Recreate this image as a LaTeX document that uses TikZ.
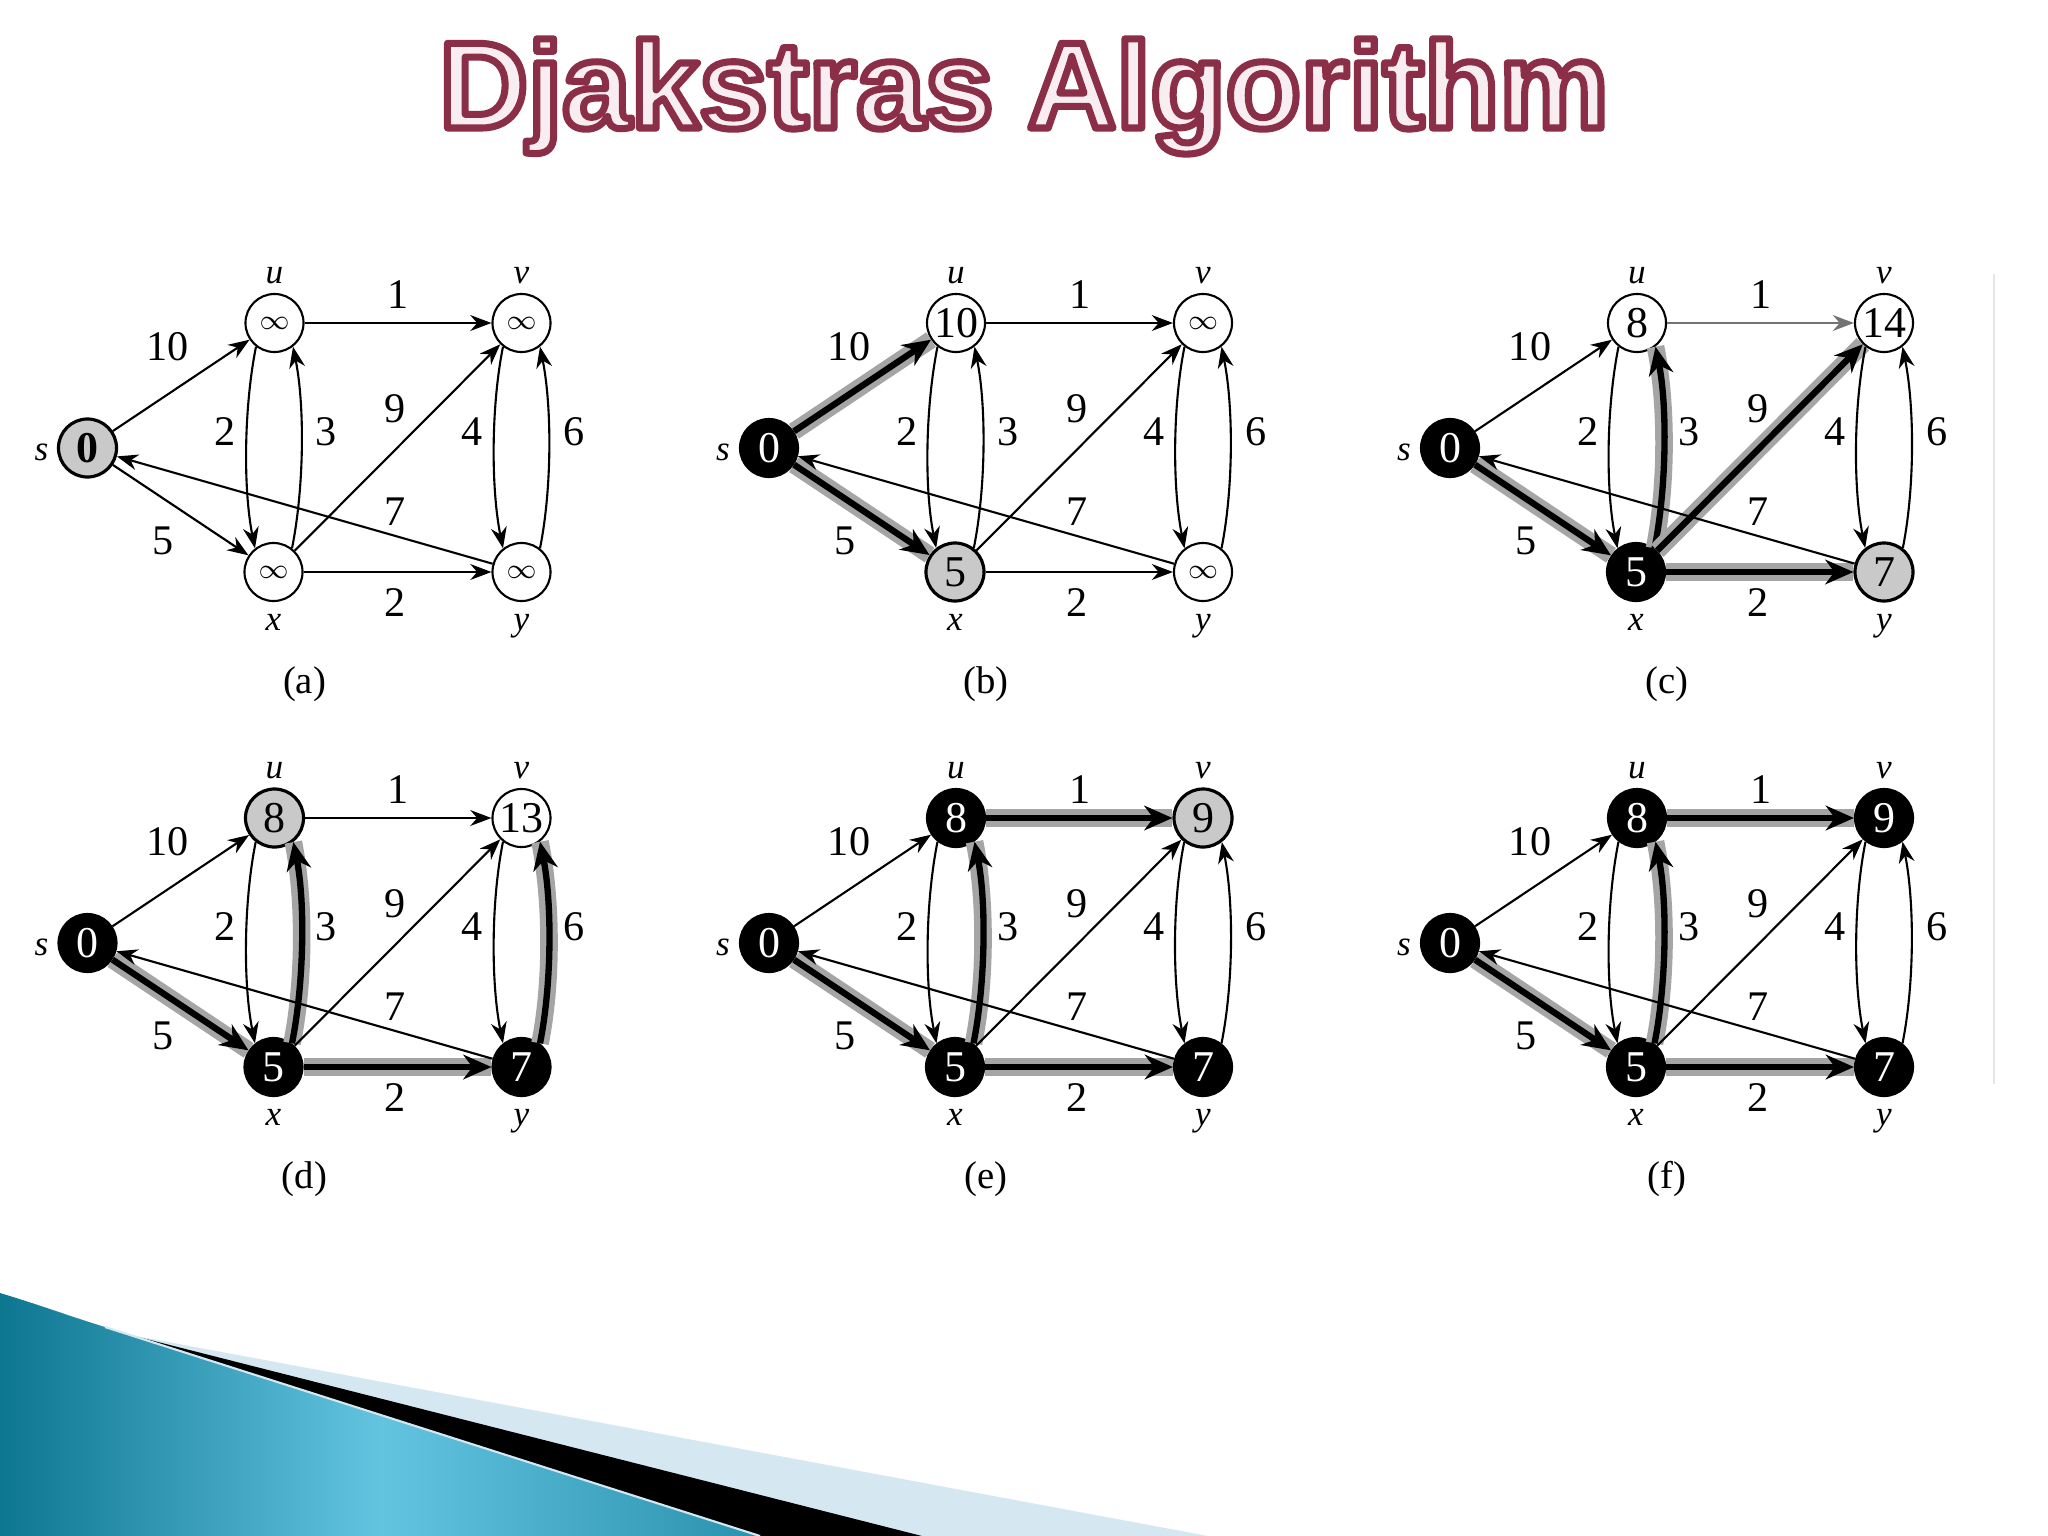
\documentclass[tikz,border=0pt]{standalone}
\usepackage{fontspec}
\setmainfont{Liberation Serif}
\newfontfamily\titlefont{Liberation Sans}
\usetikzlibrary{arrows.meta}
\definecolor{titlefill}{HTML}{F8EEF1}
\definecolor{tealdark}{HTML}{0D7690}
\definecolor{teallight}{HTML}{63C4E0}
\definecolor{tealmid}{HTML}{2A92AE}
\definecolor{paleblue}{HTML}{D5E8F1}
\definecolor{nodegray}{HTML}{C9C9C9}
\definecolor{halo}{HTML}{8E8E8E}
\newcommand\infy{{\fontsize{8}{8}\selectfont$\infty$}}
\tikzset{
  vtx/.style={circle, draw=black, line width=0.6pt, minimum size=0.58cm, inner sep=0pt, font=\fontsize{12.5}{12.5}\selectfont},
  wnode/.style={vtx, fill=white},
  gnode/.style={vtx, fill=nodegray, line width=0.9pt},
  bnode/.style={vtx, fill=black, text=white},
  ne/.style={line width=0.6pt, -{Stealth[length=6pt,width=4.5pt]}},
  neg/.style={ne, draw=black!55},
  hl/.style={line width=1.8pt, -{Stealth[length=8pt,width=7pt]}, preaction={draw=halo!80, line width=5pt, arrows=-}},
  elab/.style={font=\fontsize{12}{12}\selectfont, inner sep=0pt},
  vlab/.style={font=\fontsize{10}{10}\selectfont\itshape, inner sep=0pt},
  caplab/.style={font=\fontsize{11}{11}\selectfont, inner sep=0pt},
}
\newcommand\alledges{\tikzset{esu/.style=ne, esx/.style=ne, euv/.style=ne, eux/.style=ne, exu/.style=ne,
  exv/.style=ne, exy/.style=ne, evy/.style=ne, eyv/.style=ne, eys/.style=ne}}
\newcommand\gpanel[3]{%
\begin{scope}[shift={#2}]
  \node[ns] (#1s) at (0,0) {\Sv};
  \node[nu] (#1u) at (187,-125) {\Uv};
  \node[nv] (#1v) at (434,-125) {\Vv};
  \node[nx] (#1x) at (186,124) {\Xv};
  \node[ny] (#1y) at (434,124) {\Yv};
  \node[vlab] (#1ns) at (-46,4) {s};
  \node[vlab] (#1nu) at (187,-172) {u};
  \node[vlab] (#1nv) at (434,-172) {v};
  \node[vlab] (#1nx) at (186,174) {x};
  \node[vlab] (#1ny) at (434,178) {y};
  \draw[esu] (#1s) -- (#1u);
  \draw[esx] (#1s) -- (#1x);
  \draw[euv] (#1u) -- (#1v);
  \draw[eux] (#1u.232) .. controls +(-12,60) and +(-12,-60) .. (#1x.128);
  \draw[exu] (#1x.52) .. controls +(12,-60) and +(12,60) .. (#1u.308);
  \draw[exv] (#1x) -- (#1v);
  \draw[exy] (#1x) -- (#1y);
  \draw[evy] (#1v.232) .. controls +(-12,60) and +(-12,-60) .. (#1y.128);
  \draw[eyv] (#1y.52) .. controls +(12,-60) and +(12,60) .. (#1v.308);
  \draw[eys] (#1y) -- (#1s);
  \node[elab] (#1l10) at (80,-101) {10};
  \node[elab] (#1l1) at (311,-153) {1};
  \node[elab] (#1l2a) at (138,-16) {2};
  \node[elab] (#1l3) at (239,-16) {3};
  \node[elab] (#1l9) at (308,-39) {9};
  \node[elab] (#1l4) at (385,-16) {4};
  \node[elab] (#1l6) at (487,-16) {6};
  \node[elab] (#1l7) at (308,64) {7};
  \node[elab] (#1l5) at (76,93) {5};
  \node[elab] (#1l2b) at (308,155) {2};
  \node[caplab] (#1cap) at (217,236) {(#3)};
\end{scope}}
\begin{document}
\begin{tikzpicture}[x=0.01cm, y=-0.01cm]
\useasboundingbox (0,0) rectangle (2048,1536);
\fill[white] (0,0) rectangle (2048,1536);
% title
\node[anchor=base, text=titlefill, font=\titlefont\bfseries\fontsize{35}{38}\selectfont] (title) at (1024,128)
  {\special{pdf:literal direct q 0.545 0.180 0.282 RG 2 w 1 j 2 Tr}Djakstras Algorithm\special{pdf:literal direct Q}};
% faint scan edge
\draw[black!10, line width=0.8pt] (1994,274) -- (1994,1084);
% (a)
\alledges
\tikzset{ns/.style=gnode, nu/.style=wnode, nv/.style=wnode, nx/.style=wnode, ny/.style=wnode}
\def\Sv{\textbf{0}}\def\Uv{\infy}\def\Vv{\infy}\def\Xv{\infy}\def\Yv{\infy}
\gpanel{a}{(87.5,448)}{a}
% (b)
\alledges
\tikzset{esu/.style=hl, esx/.style=hl}
\tikzset{ns/.style=bnode, nu/.style=wnode, nv/.style=wnode, nx/.style=gnode, ny/.style=wnode}
\def\Sv{0}\def\Uv{10}\def\Vv{\infy}\def\Xv{5}\def\Yv{\infy}
\gpanel{b}{(769,448)}{b}
% (c)
\alledges
\tikzset{esx/.style=hl, exu/.style=hl, exv/.style=hl, exy/.style=hl, euv/.style=neg}
\tikzset{ns/.style=bnode, nu/.style=wnode, nv/.style=wnode, nx/.style=bnode, ny/.style=gnode}
\def\Sv{0}\def\Uv{8}\def\Vv{14}\def\Xv{5}\def\Yv{7}
\gpanel{c}{(1450,448)}{c}
% (d)
\alledges
\tikzset{esx/.style=hl, exu/.style=hl, exy/.style=hl, eyv/.style=hl}
\tikzset{ns/.style=bnode, nu/.style=gnode, nv/.style=wnode, nx/.style=bnode, ny/.style=bnode}
\def\Sv{0}\def\Uv{8}\def\Vv{13}\def\Xv{5}\def\Yv{7}
\gpanel{d}{(87.5,943)}{d}
% (e)
\alledges
\tikzset{esx/.style=hl, exu/.style=hl, euv/.style=hl, exy/.style=hl}
\tikzset{ns/.style=bnode, nu/.style=bnode, nv/.style=gnode, nx/.style=bnode, ny/.style=bnode}
\def\Sv{0}\def\Uv{8}\def\Vv{9}\def\Xv{5}\def\Yv{7}
\gpanel{e}{(769,943)}{e}
% (f)
\alledges
\tikzset{esx/.style=hl, exu/.style=hl, euv/.style=hl, exy/.style=hl}
\tikzset{ns/.style=bnode, nu/.style=bnode, nv/.style=bnode, nx/.style=bnode, ny/.style=bnode}
\def\Sv{0}\def\Uv{8}\def\Vv{9}\def\Xv{5}\def\Yv{7}
\gpanel{f}{(1450,943)}{f}
% bottom-left decoration
\fill[paleblue] (120,1333) -- (1208,1536) -- (700,1536) -- cycle;
\fill[black] (95,1326) -- (922,1536) -- (700,1536) -- cycle;
\shade[left color=tealdark, right color=tealmid, middle color=teallight]
  (0,1293) .. controls (40,1305) and (72,1317) .. (105,1327) -- (760,1536) -- (0,1536) -- cycle;
\draw[paleblue, line width=0.6pt] (105,1327) -- (760,1536);
\end{tikzpicture}
\end{document}
